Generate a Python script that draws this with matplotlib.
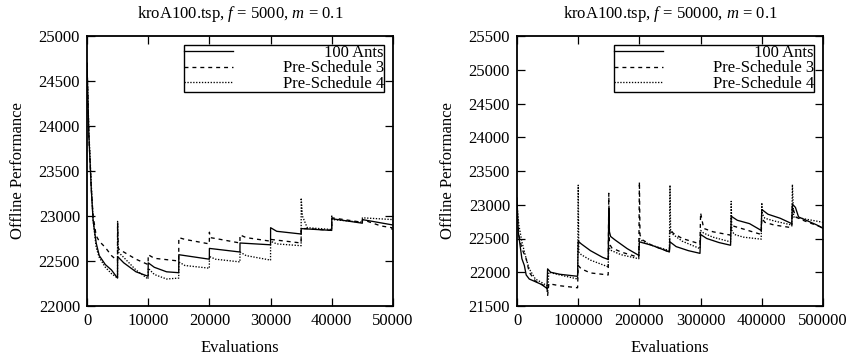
import matplotlib.pyplot as plt

plt.rcParams['font.family'] = ['Liberation Serif', 'DejaVu Serif']
plt.rcParams['mathtext.fontset'] = 'custom'
plt.rcParams['mathtext.rm'] = 'Liberation Serif'
plt.rcParams['mathtext.it'] = 'Liberation Serif:italic'
plt.rcParams['font.size'] = 12

labels = ['100 Ants', 'Pre-Schedule 3', 'Pre-Schedule 4']
titles = ['kroA100.tsp, $f$ = 5000, $m$ = 0.1', 'kroA100.tsp, $f$ = 50000, $m$ = 0.1']

# f = 5000
l_ants_x = [0, 300, 700, 1000, 1500, 2000, 3000, 4000, 4990, 5000, 6000, 8000, 9990, 10000, 11000, 13000,
            14990, 15000, 19990, 20000, 24990, 25000, 29990, 30000, 31000, 34990, 35000, 39990, 40000,
            44990, 45000, 50000]
l_ants_y = [24700, 23900, 23300, 22950, 22700, 22560, 22460, 22400, 22310, 22550, 22480, 22380, 22330,
            22480, 22430, 22380, 22370, 22570, 22520, 22640, 22600, 22700, 22680, 22870, 22830, 22800,
            22860, 22840, 22970, 22920, 22960, 22900]

l_ps3_x = [0, 300, 700, 1000, 1500, 2000, 3000, 4000, 4990, 5000, 5100, 5300, 6000, 8000, 9990, 10000,
           11000, 14990, 15000, 16000, 19990, 20000, 20100, 21000, 24990, 25000, 26000, 29990, 30000,
           34990, 35000, 36000, 39990, 40000, 44990, 45000, 48000, 49800, 50000]
l_ps3_y = [24700, 23900, 23300, 23000, 22780, 22720, 22650, 22560, 22500, 22930, 22650, 22620, 22600,
           22520, 22460, 22570, 22530, 22500, 22760, 22740, 22690, 22820, 22760, 22750, 22700, 22790,
           22760, 22720, 22740, 22700, 22860, 22860, 22840, 22980, 22930, 22960, 22890, 22870, 22810]

l_ps4_x = [0, 300, 700, 1000, 1500, 2000, 3000, 4000, 4990, 5000, 5100, 6000, 8000, 9990, 10000, 11000,
           13000, 14990, 15000, 16000, 19990, 20000, 21000, 24990, 25000, 26000, 29990, 30000, 31000,
           34990, 35000, 35200, 35800, 36000, 39990, 40000, 40200, 44990, 45000, 50000]
l_ps4_y = [24700, 23950, 23350, 22950, 22650, 22540, 22430, 22360, 22310, 22940, 22600, 22540, 22400,
           22300, 22420, 22350, 22300, 22310, 22490, 22450, 22420, 22550, 22520, 22490, 22600, 22560,
           22510, 22720, 22690, 22670, 23200, 23000, 22900, 22870, 22850, 23000, 22960, 22930, 22980,
           22960]

# f = 50000
r_ants_x = [0, 2000, 5000, 8000, 12000, 15000, 20000, 30000, 40000, 49000, 50000, 55000, 70000, 99000,
            100000, 105000, 120000, 140000, 149000, 150000, 151000, 153000, 160000, 180000, 199000,
            200000, 220000, 249000, 250000, 260000, 280000, 299000, 300000, 310000, 330000, 349000,
            350000, 360000, 380000, 399000, 400000, 410000, 430000, 449000, 450000, 455000, 460000,
            470000, 490000, 500000]
r_ants_y = [23100, 22600, 22400, 22200, 22100, 21960, 21900, 21860, 21820, 21760, 22050, 22000, 21970,
            21940, 22460, 22420, 22320, 22220, 22190, 22950, 22600, 22530, 22480, 22350, 22250, 22450,
            22400, 22300, 22450, 22380, 22320, 22280, 22560, 22500, 22440, 22400, 22830, 22770, 22720,
            22620, 22930, 22860, 22800, 22720, 23010, 22960, 22820, 22780, 22700, 22650]

r_ps3_x = [0, 3000, 8000, 15000, 20000, 30000, 40000, 49000, 50000, 52000, 70000, 99000, 100000, 105000,
           120000, 149000, 150000, 151000, 155000, 170000, 199000, 200000, 201000, 205000, 220000,
           249000, 250000, 255000, 270000, 299000, 300000, 305000, 320000, 349000, 350000, 355000,
           370000, 399000, 400000, 405000, 420000, 449000, 450000, 455000, 470000, 500000]
r_ps3_y = [22900, 22550, 22350, 22200, 22000, 21870, 21820, 21780, 21650, 21830, 21800, 21770, 22100,
           22050, 21990, 21960, 23170, 22420, 22360, 22300, 22220, 23340, 22550, 22480, 22400, 22300,
           22640, 22580, 22500, 22420, 22880, 22650, 22600, 22550, 22700, 22680, 22640, 22560, 22800,
           22740, 22700, 22660, 22980, 22820, 22760, 22660]

r_ps4_x = [0, 3000, 8000, 15000, 20000, 30000, 40000, 49000, 50000, 52000, 70000, 99000, 100000, 101000,
           105000, 120000, 149000, 150000, 152000, 170000, 199000, 200000, 205000, 220000, 249000,
           250000, 251000, 255000, 270000, 299000, 300000, 305000, 320000, 349000, 350000, 351000,
           355000, 370000, 399000, 400000, 401000, 405000, 420000, 449000, 450000, 452000, 470000,
           500000]
r_ps4_y = [23000, 22700, 22450, 22200, 22050, 21900, 21850, 21800, 21700, 22000, 21960, 21900, 23290,
           22300, 22260, 22180, 22080, 22400, 22330, 22260, 22200, 22500, 22460, 22400, 22320, 23290,
           22600, 22560, 22460, 22350, 22620, 22580, 22520, 22450, 23050, 22620, 22560, 22520, 22490,
           23030, 22860, 22800, 22760, 22700, 23300, 22820, 22790, 22740]

panels = [
    (l_ants_x, l_ants_y, l_ps3_x, l_ps3_y, l_ps4_x, l_ps4_y, (0, 50000), (22000, 25000),
     range(0, 50001, 10000), range(22000, 25001, 500)),
    (r_ants_x, r_ants_y, r_ps3_x, r_ps3_y, r_ps4_x, r_ps4_y, (0, 500000), (21500, 25500),
     range(0, 500001, 100000), range(21500, 25501, 500)),
]

fig = plt.figure(figsize=(8.51, 3.57), dpi=100)
lefts = [87 / 851, 517 / 851]
width = 306 / 851

for i, p in enumerate(panels):
    ax = fig.add_axes([lefts[i], 51 / 357, width, 270 / 357])
    ax.plot(p[0], p[1], color='black', lw=0.95, ls='-', label=labels[0])
    ax.plot(p[2], p[3], color='black', lw=0.95, ls=(0, (3, 3)), label=labels[1])
    ax.plot(p[4], p[5], color='black', lw=0.95, ls=(0, (1, 1.2)), label=labels[2])
    ax.set_xlim(p[6])
    ax.set_ylim(p[7])
    ax.set_xticks(list(p[8]))
    ax.set_yticks(list(p[9]))
    ax.tick_params(direction='in', length=5.5, width=0.9, top=True, right=True, labelsize=12, pad=5)
    for s in ax.spines.values():
        s.set_linewidth(1.3)
    ax.set_title(titles[i], fontsize=12, pad=13)
    ax.set_xlabel('Evaluations', fontsize=12, labelpad=8)
    ax.set_ylabel('Offline Performance', fontsize=12, labelpad=9)
    leg = ax.legend(loc='upper right', frameon=True, fancybox=False, edgecolor='black',
                    framealpha=1, handlelength=2.9, handletextpad=3.0, labelspacing=-0.05,
                    borderpad=0.0, borderaxespad=0.55, fontsize=12)
    leg.get_frame().set_linewidth(1.0)
    # right-justify the legend labels, gnuplot style
    fig.canvas.draw()
    renderer = fig.canvas.get_renderer()
    widths = [t.get_window_extent(renderer).width for t in leg.get_texts()]
    for t, w in zip(leg.get_texts(), widths):
        t.set_position((max(widths) - w, 0))

plt.savefig('out.png', dpi=100)
